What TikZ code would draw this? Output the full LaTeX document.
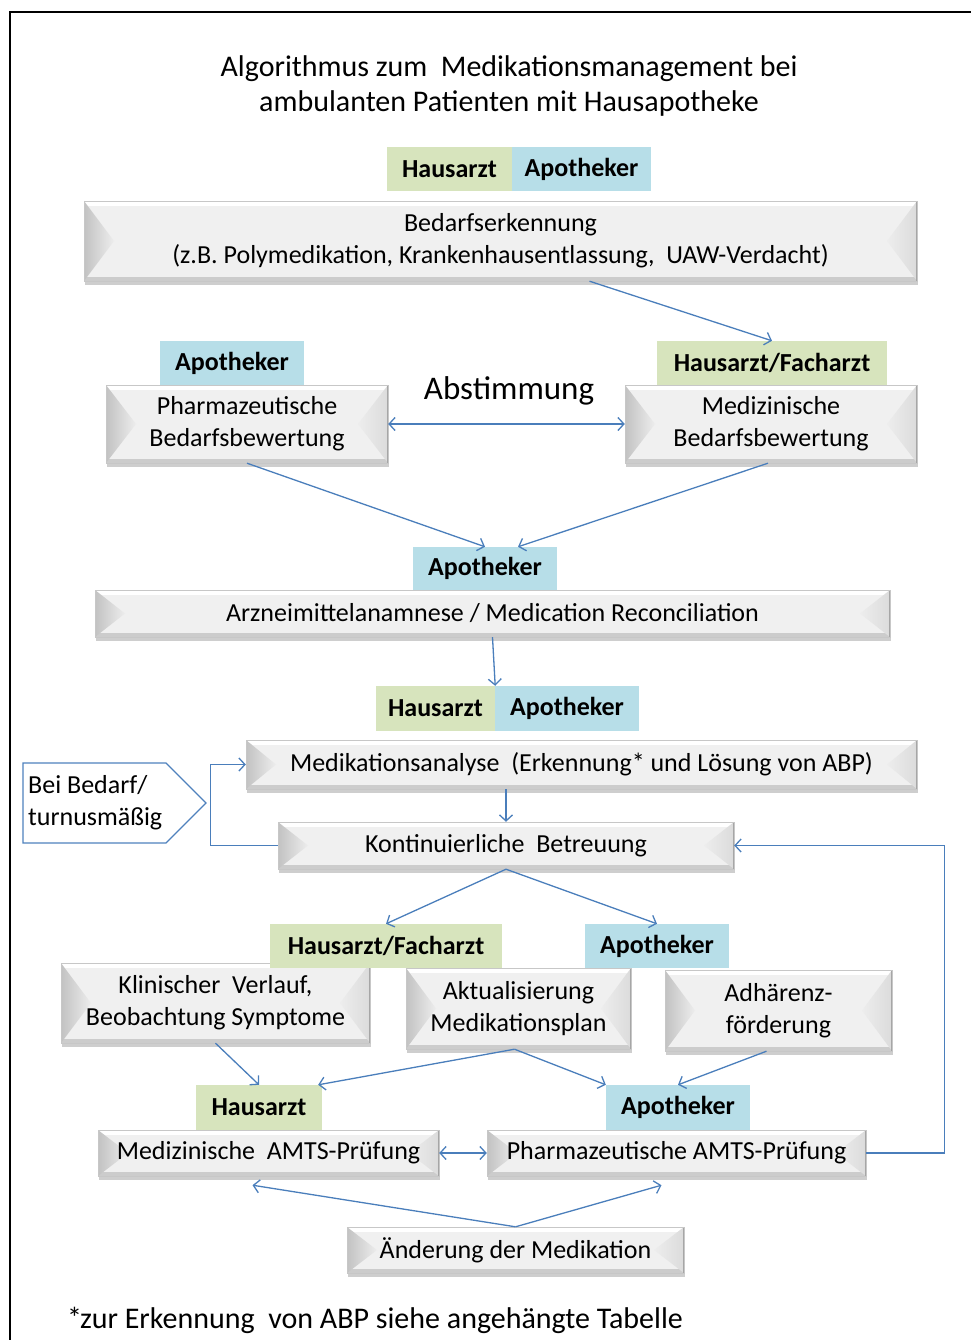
\documentclass[tikz,border=0pt]{standalone}
\usepackage{fontspec}
\setmainfont{Carlito}
\usetikzlibrary{arrows.meta,shadows}
\definecolor{tgreen}{HTML}{D7E4BD}
\definecolor{tblue}{HTML}{B7DEE8}
\definecolor{arrc}{HTML}{4A7EBB}
\definecolor{pentc}{HTML}{4F81BD}
\tikzset{
  bevel/.style={draw=black!22, fill=black!6, align=center, inner sep=0pt,
    font=\fontsize{26}{32}\selectfont,
    drop shadow={shadow xshift=1pt, shadow yshift=-4pt, opacity=.35, fill=black!55},
    path picture={
      \fill[white] (path picture bounding box.north west) rectangle ([yshift=-5pt]path picture bounding box.north east);
      \fill[black!20] (path picture bounding box.south west) rectangle ([yshift=4pt]path picture bounding box.south east);
      \shade[left color=black!24, right color=black!7] (path picture bounding box.north west) -- ([xshift=30pt]path picture bounding box.west) -- (path picture bounding box.south west) -- cycle;
      \shade[left color=black!7, right color=black!14] (path picture bounding box.north east) -- ([xshift=-30pt]path picture bounding box.east) -- (path picture bounding box.south east) -- cycle;
      \draw[black!35, line width=2pt] (path picture bounding box.north east) -- (path picture bounding box.south east);
    }},
  tag/.style={inner sep=0pt, minimum height=44pt, font=\bfseries\fontsize{26}{30}\selectfont},
  tagg/.style={tag, fill=tgreen},
  tagb/.style={tag, fill=tblue},
  arr/.style={draw=arrc, line width=1.3pt, ->},
  darr/.style={draw=arrc, line width=1.3pt, <->},
  >={Straight Barb[length=6pt,width=13pt]},
}
\begin{document}
\begin{tikzpicture}[x=1pt,y=-1pt]
\useasboundingbox (0,0) rectangle (971,1340);
\draw[line width=1.5pt] (10,1340) -- (10,12) -- (971,12);

\node[font=\fontsize{30}{35}\selectfont, align=center] (title) at (509,86)
  {Algorithmus zum\ \ Medikationsmanagement bei\\ambulanten Patienten mit Hausapotheke};

% boxes
\node[bevel, minimum width=833pt, minimum height=80pt] (b1) at (500.5,241)
  {Bedarfserkennung\\(z.B. Polymedikation, Krankenhausentlassung,\ \ UAW-Verdacht)};
\node[bevel, minimum width=282pt, minimum height=78pt] (b2) at (247,424)
  {Pharmazeutische\\Bedarfsbewertung};
\node[bevel, minimum width=292pt, minimum height=78pt] (b3) at (771,424)
  {Medizinische\\Bedarfsbewertung};
\node[bevel, minimum width=795pt, minimum height=47pt] (b4) at (492.5,613.5)
  {Arzneimittelanamnese / Medication Reconciliation};
\node[bevel, minimum width=671pt, minimum height=49pt] (b5) at (581.5,764.5)
  {Medikationsanalyse\ \ (Erkennung* und Lösung von ABP)};
\node[bevel, minimum width=456pt, minimum height=47pt] (b6) at (506,845.5)
  {Kontinuierliche\ \ Betreuung};
\node[bevel, minimum width=309pt, minimum height=80pt] (b7) at (215.5,1003)
  {Klinischer\ \ Verlauf,\\Beobachtung Symptome};
\node[bevel, minimum width=225pt, minimum height=81pt] (b8) at (518.5,1008.5)
  {Aktualisierung\\Medikationsplan};
\node[bevel, minimum width=227pt, minimum height=81pt] (b9) at (778.5,1010.5)
  {Adhärenz-\\förderung};
\node[bevel, minimum width=341pt, minimum height=46pt] (b10) at (268.5,1153)
  {Medizinische\ \ AMTS-Prüfung};
\node[bevel, minimum width=379pt, minimum height=46pt] (b11) at (676.5,1153)
  {Pharmazeutische AMTS-Prüfung};
\node[bevel, minimum width=337pt, minimum height=46pt] (b12) at (515.5,1250)
  {Änderung der Medikation};

% tags
\node[tagg, minimum width=125pt] (t1g) at (449.5,169) {Hausarzt};
\node[tagb, minimum width=139pt] (t1b) at (581.5,169) {Apotheker};
\node[tagb, minimum width=144pt] (t2) at (232,363) {Apotheker};
\node[tagg, minimum width=230pt] (t3) at (772,363) {Hausarzt/Facharzt};
\node[tagb, minimum width=144pt, minimum height=43pt] (t4) at (485,568.5) {Apotheker};
\node[tagg, minimum width=119pt, minimum height=45pt] (t5g) at (435.5,708.5) {Hausarzt};
\node[tagb, minimum width=144pt, minimum height=45pt] (t5b) at (567,708.5) {Apotheker};
\node[tagg, minimum width=232pt] (t6) at (386,946) {Hausarzt/Facharzt};
\node[tagb, minimum width=144pt] (t7) at (657,946) {Apotheker};
\node[tagg, minimum width=126pt, minimum height=45pt] (t8) at (259,1107.5) {Hausarzt};
\node[tagb, minimum width=144pt, minimum height=45pt] (t9) at (678,1107.5) {Apotheker};

% other texts
\node[font=\fontsize{33}{38}\selectfont, inner sep=0pt] (abst) at (509,391) {Abstimmung};
\draw[pentc, line width=1.3pt] (23,763) -- (166,763) -- (206,803) -- (166,843) -- (23,843) -- cycle;
\node[anchor=west, align=left, inner sep=0pt, font=\fontsize{26}{32}\selectfont] (pt) at (28,803)
  {Bei Bedarf/\\turnusmäßig};
\node[anchor=west, inner sep=0pt, font=\fontsize{30}{34}\selectfont] (fn) at (67,1320)
  {*\kern-2pt zur Erkennung\ \ von ABP siehe angehängte Tabelle};

% connectors
\draw[arr] ([xshift=89pt]b1.south) -- (t3.north);
\draw[darr] (b2.east) -- (b3.west);
\draw[arr] (b2.south) -- (t4.north);
\draw[arr] ([xshift=-3pt]b3.south) -- ([xshift=33pt]t4.north);
\draw[arr] (b4.south) -- (t5g.north east);
\draw[arr] (b5.south -| b6.north) -- (b6.north);
\draw[arr] (b6.west) -- ++(-67,0) |- (b5.west);
\draw[arr] (b11.east) -- ++(78,0) |- (b6.east);
\draw[arr] (b6.south) -- (t6.north);
\draw[arr] (b6.south) -- (t7.north);
\draw[arr] (b7.south) -- (t8.north);
\draw[arr] ([xshift=-4pt]b8.south) -- ([xshift=-4pt]t8.north east);
\draw[arr] ([xshift=-4pt]b8.south) -- (t9.north west);
\draw[arr] ([xshift=-12pt]b9.south) -- (t9.north);
\draw[darr] (b10.east) -- (b11.west);
\draw[arr] (b12.north) -- ([xshift=-16pt,yshift=-9pt]b10.south);
\draw[arr] (b12.north) -- ([xshift=-15pt,yshift=-9pt]b11.south);
\end{tikzpicture}
\end{document}
